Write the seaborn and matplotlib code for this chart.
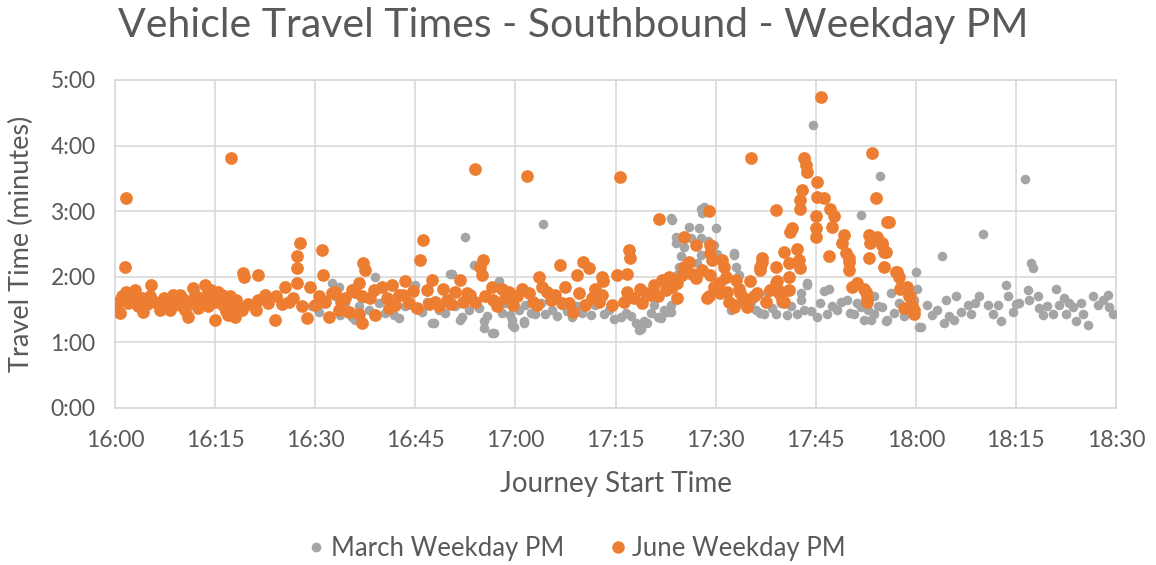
import matplotlib
matplotlib.use("Agg")
import matplotlib.pyplot as plt
import seaborn as sns
import pandas as pd
from matplotlib.ticker import FuncFormatter
from matplotlib.lines import Line2D

# ---- data: journey start (minutes after 16:00), travel time (minutes) ----
june_t = [0.2,0.5,0.7,1.0,1.45,1.6,1.6,2.0,2.2,2.7,3.0,3.5,4.0,4.2,4.8,5.2,5.4,6.0,6.7,7.0,7.4,8.0,8.2,8.7,9.0,9.7,9.7,10.2,10.5,11.0,11.3,11.7,12.0,12.5,13.0,13.5,13.7,14.0,14.4,14.95,15.0,15.5,16.0,16.2,16.6,17.0,17.2,17.4,17.5,18.0,18.2,18.5,19.0,19.2,19.4,20.0,
          21.2,21.5,21.5,22.5,23.0,24.0,24.2,25.0,25.5,26.0,26.7,27.2,27.7,27.2,27.2,28.0,28.7,29.2,30.0,30.5,31.0,31.2,31.5,32.0,32.5,33.0,33.5,33.9,34.5,35.0,35.5,36.0,
          36.5,36.5,37.0,37.0,37.2,37.5,38.2,38.8,39.0,40.0,40.7,41.0,41.5,42.0,42.6,43.2,43.5,44.0,44.6,45.2,45.7,46.2,46.7,47.0,47.5,48.0,48.6,49.2,49.7,50.3,51.0,51.7,52.2,52.7,53.2,53.9,54.0,54.7,55.0,55.2,55.5,56.5,56.7,57.3,58.0,58.5,59.0,59.7,60.3,61.0,61.8,62.0,62.6,63.2,63.5,64.0,64.7,65.3,66.0,66.7,67.0,67.5,68.0,68.7,69.2,69.6,70.2,70.5,71.0,71.5,72.0,72.5,73.0,73.0,73.2,
          74.5,75.2,75.6,76.2,76.7,76.7,77.0,77.2,77.8,78.7,79.0,79.6,80.2,80.7,81.3,81.5,82.0,82.5,83.0,83.5,84.2,84.2,85.0,85.2,85.2,86.0,86.5,87.0,87.1,88.0,88.7,89.0,89.0,89.2,89.2,89.5,89.2,89.8,
          90.5,90.7,91.0,91.2,91.5,91.7,92.0,92.7,92.7,93.0,93.5,93.7,94.2,94.7,94.7,95.2,95.3,95.7,96.2,96.7,96.7,97.0,97.0,97.6,98.2,99.0,99.0,99.0,99.2,99.5,100.0,100.0,100.2,100.2,101.0,101.0,101.0,101.2,101.5,102.2,102.5,102.7,102.7,102.7,103.0,103.2,103.5,103.7,105.0,105.0,105.0,105.2,105.2,105.75,106.2,107.0,107.2,107.5,107.7,109.0,109.2,109.5,110.0,110.0,110.0,110.5,111.25,112.2,112.5,112.7,112.75,113.0,113.0,113.2,113.25,113.5,114.0,114.2,115.0,115.0,115.2,115.25,115.5,115.7,116.0,117.0,117.2,117.5,117.7,117.75,118.2,118.7,119.0,119.2,119.5,119.7,119.75]
june_v = [1.54,1.62,1.45,1.70,2.15,3.20,1.77,1.60,1.76,1.65,1.80,1.55,1.68,1.47,1.58,1.70,1.87,1.62,1.49,1.55,1.68,1.62,1.50,1.72,1.58,1.72,1.57,1.66,1.50,1.39,1.60,1.83,1.72,1.52,1.62,1.87,1.70,1.56,1.80,1.34,1.62,1.77,1.72,1.57,1.48,1.42,1.70,3.81,1.58,1.39,1.65,1.54,1.50,2.06,2.00,1.58,
          1.49,2.03,1.65,1.72,1.60,1.34,1.70,1.58,1.85,1.62,1.68,2.31,2.51,2.13,1.90,1.55,1.37,1.85,1.57,1.70,2.41,2.03,1.62,1.39,1.75,1.77,1.50,1.62,1.68,1.47,1.80,1.77,
          1.90,1.44,1.70,1.29,2.21,2.10,1.67,1.80,1.42,1.85,1.67,1.52,1.87,1.57,1.72,1.72,1.93,1.60,1.78,1.52,2.26,2.56,1.80,1.58,1.95,1.62,1.55,1.82,1.65,1.58,1.77,1.95,1.62,1.75,1.72,3.64,1.62,2.15,2.03,2.26,1.70,1.85,1.65,1.55,1.82,1.68,1.77,1.57,1.70,1.82,3.53,1.75,1.62,1.57,2.00,1.85,1.77,1.65,1.72,2.18,1.60,1.85,1.60,1.47,2.03,1.75,2.23,1.57,2.13,1.68,1.82,1.62,2.00,1.72,1.93,
          1.57,2.03,3.52,1.62,2.05,1.77,2.41,2.28,1.68,1.82,1.60,1.75,1.72,1.87,1.70,2.88,1.95,1.80,2.00,1.85,1.67,1.90,2.03,2.15,2.60,2.23,2.05,1.98,2.48,2.10,1.67,3.00,1.70,2.49,2.36,2.26,2.03,1.85,
          1.90,1.75,2.26,2.15,2.00,1.77,1.62,1.57,1.54,1.95,1.82,1.75,1.68,1.57,1.54,1.93,3.81,1.70,1.75,2.15,2.10,2.28,2.23,1.62,1.80,3.02,2.15,1.90,1.93,1.75,1.77,1.65,1.62,2.38,2.00,2.21,1.80,2.69,2.74,2.43,2.26,2.13,3.17,3.04,3.32,3.81,3.70,3.60,2.92,2.74,2.61,3.45,3.22,4.74,3.20,2.31,3.04,2.76,2.92,2.51,2.64,2.36,2.23,2.10,2.28,1.85,1.90,1.82,1.77,1.67,1.62,2.64,2.28,2.51,2.56,3.89,3.20,2.61,2.51,2.48,2.38,2.15,2.38,2.84,2.84,2.08,2.08,2.00,1.82,1.85,1.52,1.85,1.70,1.70,1.57,1.49,1.44]

march_t = [29.5,30.25,30.5,31.5,32.5,33.0,33.5,33.75,34.5,35.5,36.0,36.5,37.25,38.0,39.0,39.5,40.5,41.75,42.5,43.5,44.75,45.0,45.0,46.0,46.8,47.5,47.75,48.5,49.5,50.25,50.5,51.0,51.75,52.0,52.5,53.0,53.75,54.5,55.25,55.25,55.8,56.5,56.75,57.5,58.0,58.5,59.25,59.5,59.5,59.75,60.5,61.25,61.25,61.5,62.3,63.0,63.8,64.1,64.5,65.5,66.2,67.0,67.8,68.5,69.3,70.0,70.8,71.3,72.0,72.5,73.25,
           74.0,74.8,75.75,76.5,77.3,78.0,78.5,78.75,79.25,79.75,80.3,80.75,81.3,81.75,82.3,82.75,83.25,83.25,83.25,83.5,84.0,84.0,84.2,84.5,84.75,85.3,86.0,86.25,87.25,87.5,87.75,87.75,87.75,88.0,88.25,88.8,89.75,90.0,90.2,90.75,91.3,92.25,92.75,92.75,93.0,93.5,93.75,94.5,95.3,96.0,96.6,97.25,97.75,98.4,99.0,99.8,100.75,101.3,102.25,102.75,102.75,103.3,103.75,103.75,104.3,104.6,105.25,105.7,106.2,106.75,107.0,107.5,108.25,108.8,109.75,110.2,110.75,111.25,111.75,111.75,112.25,112.8,113.25,113.75,113.75,114.3,114.6,115.0,115.5,115.75,116.25,116.8,117.5,118.2,118.8,119.75,120.0,
           120.25,120.5,120.75,121.75,122.5,123.25,124.0,124.25,124.5,125.0,125.75,126.0,126.75,127.75,128.25,128.9,129.5,130.0,130.75,131.5,132.25,132.75,133.5,133.75,134.5,135.0,135.5,136.4,136.75,137.0,137.25,137.5,138.25,138.5,139.0,139.7,140.5,141.0,141.5,142.25,142.5,143.0,143.5,144.0,144.75,145.0,145.75,146.5,147.25,148.0,148.75,149.0,149.5]
march_v = [1.55,1.52,1.47,1.65,1.90,1.70,1.85,1.42,1.60,1.39,1.34,1.55,1.67,1.50,2.00,1.60,1.45,1.42,1.37,1.55,1.85,1.87,1.52,1.47,1.62,1.29,1.29,1.50,1.45,2.05,2.05,1.55,1.34,1.39,2.61,1.50,2.18,1.52,1.32,1.22,1.40,1.14,1.15,1.93,1.45,1.60,1.42,1.34,1.27,1.24,1.50,1.32,1.29,1.57,1.45,1.44,1.60,2.80,1.44,1.50,1.40,1.57,1.48,1.39,1.55,1.45,1.60,1.42,1.57,1.75,1.44,
           1.50,1.35,1.39,1.45,1.40,1.30,1.19,1.21,1.32,1.29,1.45,1.57,1.38,1.37,1.50,1.47,1.57,1.47,2.90,2.87,2.61,2.51,2.03,2.15,2.31,2.45,2.76,2.59,2.21,2.74,3.04,2.59,2.33,2.97,3.07,2.55,2.48,2.74,2.35,1.75,1.95,1.49,2.33,2.36,2.15,2.03,1.65,1.55,1.62,1.50,1.45,1.44,1.75,1.52,1.44,1.60,1.42,1.55,1.44,1.65,1.75,1.50,1.87,1.90,1.48,4.31,1.39,1.60,1.78,1.44,1.82,1.55,1.49,1.62,1.65,1.45,1.44,1.60,1.54,2.94,1.34,1.50,1.34,1.44,1.70,1.55,3.54,1.54,1.32,1.34,1.75,1.45,1.60,1.40,1.55,1.65,2.08,
           1.82,1.24,1.24,1.57,1.42,1.49,2.31,1.29,1.65,1.40,1.34,1.70,1.47,1.57,1.44,1.60,1.70,2.66,1.57,1.44,1.57,1.32,1.87,1.70,1.47,1.58,1.60,3.49,1.80,1.65,2.21,2.13,1.70,1.52,1.42,1.55,1.44,1.82,1.57,1.67,1.44,1.60,1.54,1.32,1.60,1.44,1.27,1.70,1.57,1.65,1.72,1.54,1.44]

series_names = ["March Weekday PM", "June Weekday PM"]
series_colors = ["#A5A5A5", "#ED7D31"]
x_ticks = list(range(0, 151, 15))
y_ticks = [0, 1, 2, 3, 4, 5]

TXT = "#595959"
GRID = "#D9D9D9"

sns.set_theme(style="white")
plt.rcParams["font.family"] = ["Lato", "DejaVu Sans"]

fig = plt.figure(figsize=(11.56, 5.65), dpi=100)
ax = fig.add_axes([115/1156, 1-408/565, (1116-115)/1156, (408-80)/565])

march = pd.DataFrame({"t": march_t, "v": march_v})
june = pd.DataFrame({"t": june_t, "v": june_v})

sns.scatterplot(data=march, x="t", y="v", ax=ax, color=series_colors[0], s=48,
                linewidth=0, zorder=3)
sns.scatterplot(data=june, x="t", y="v", ax=ax, color=series_colors[1], s=84,
                linewidth=0, zorder=4)

ax.set_xlim(0, 150)
ax.set_ylim(0, 5)
ax.set_xticks(x_ticks)
ax.set_yticks(y_ticks)
ax.xaxis.set_major_formatter(FuncFormatter(lambda m, p: f"{16 + int(m)//60}:{int(m)%60:02d}"))
ax.yaxis.set_major_formatter(FuncFormatter(lambda v, p: f"{int(v)}:{int(round((v % 1)*60)):02d}"))
ax.grid(True, color=GRID, linewidth=1.2, zorder=0)
ax.set_axisbelow(True)
for sp in ax.spines.values():
    sp.set_color(GRID)
    sp.set_linewidth(1.2)
ax.tick_params(axis="x", length=0, labelsize=16.5, colors=TXT, pad=16)
ax.tick_params(axis="y", length=0, labelsize=16.5, colors=TXT, pad=14)
ax.set_xlabel("Journey Start Time", fontsize=20, color=TXT, labelpad=14)
ax.set_ylabel("Travel Time (minutes)", fontsize=19.5, color=TXT, labelpad=12)

fig.text(0.496, 0.955, "Vehicle Travel Times - Southbound - Weekday PM",
         ha="center", va="center", fontsize=29.5, color=TXT)

handles = [Line2D([], [], marker="o", linestyle="", markersize=ms, color=c, markeredgewidth=0)
           for c, ms in zip(series_colors, [7, 9])]
fig.legend(handles, series_names, loc="center", bbox_to_anchor=(0.497, 0.03), ncol=2,
           frameon=False, fontsize=18.5, labelcolor=TXT, handletextpad=0.05, columnspacing=1.6,
           handlelength=1.0)

fig.savefig("out.png", dpi=100)
